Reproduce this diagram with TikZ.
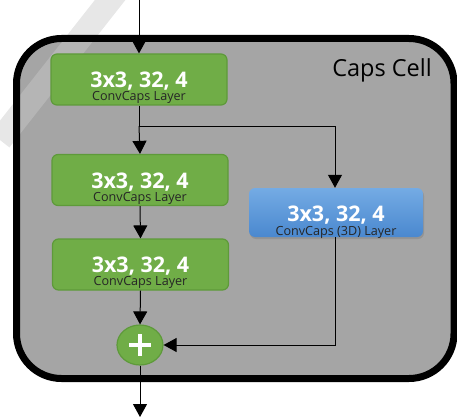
\documentclass[tikz,border=0pt]{standalone}
\usepackage{fontspec}
\setmainfont{Open Sans}
\usetikzlibrary{arrows.meta,shapes.geometric,shadows,calc}
\definecolor{cellgray}{HTML}{A5A5A5}
\definecolor{capsgreen}{HTML}{70AD47}
\definecolor{capsgreenline}{HTML}{5E9A3A}
\definecolor{bluetop}{HTML}{74ABE4}
\definecolor{bluebot}{HTML}{4A88CF}
\definecolor{wmark}{HTML}{C9C9C9}
\tikzset{
  greenbox/.style={draw=capsgreenline, line width=1.2pt, fill=capsgreen, rounded corners=6pt, minimum width=176pt, minimum height=51pt, inner sep=0pt},
  bluebox/.style={rounded corners=6pt, top color=bluetop, bottom color=bluebot, draw=none, minimum width=174pt, minimum height=49pt, inner sep=0pt, drop shadow={shadow xshift=1pt, shadow yshift=-2pt, opacity=0.45}},
  maintxt/.style={anchor=base, text=white, font=\bfseries\fontsize{21.5}{24}\selectfont, inner sep=0pt},
  subtxt/.style={anchor=base, text=black!85, font=\fontsize{12.6}{14}\selectfont, inner sep=0pt},
  flow/.style={draw=black, line width=1pt, -{Triangle[length=13pt,width=14pt]}},
  plain/.style={draw=black, line width=1pt}
}
\begin{document}
\begin{tikzpicture}[x=1pt,y=-1pt]
\useasboundingbox (0,0) rectangle (457,417);
% cell background
\fill[cellgray, rounded corners=45pt] (16.5,38.5) rectangle (454,378.5);
% faint watermark band
\draw[wmark, opacity=0.45, line width=24pt] (118,-10) -- (0,140);
\draw[black, line width=7pt, rounded corners=45pt] (16.5,38.5) rectangle (454,378.5);
\node[anchor=base, font=\fontsize{23.5}{26}\selectfont, inner sep=0pt] (title) at (382,77) {Caps Cell};
% layers
\node[greenbox] (b1) at (139,79.5) {};
\node[greenbox] (b2) at (140,180) {};
\node[greenbox] (b3) at (140.5,264.5) {};
\node[bluebox] (b4) at (336,212.5) {};
\node[maintxt] (t1) at (139,87.5) {3x3, 32, 4};
\node[subtxt] (s1) at (139,101) {ConvCaps Layer};
\node[maintxt] (t2) at (140,188) {3x3, 32, 4};
\node[subtxt] (s2) at (140,201.5) {ConvCaps Layer};
\node[maintxt] (t3) at (140.5,272) {3x3, 32, 4};
\node[subtxt] (s3) at (140.5,285.5) {ConvCaps Layer};
\node[maintxt] (t4) at (336,221.5) {3x3, 32, 4};
\node[subtxt] (s4) at (336,235) {ConvCaps (3D) Layer};
% sum node
\node[ellipse, draw=capsgreenline, line width=1.2pt, fill=capsgreen, minimum width=46pt, minimum height=40pt, inner sep=0pt] (sum) at (140,345) {};
\fill[white] ($(sum.center)+(-11,-2.3)$) rectangle ($(sum.center)+(11,2.3)$);
\fill[white] ($(sum.center)+(-2.3,-11)$) rectangle ($(sum.center)+(2.3,11)$);
% connectors
\coordinate (in) at (139,0);
\coordinate (split) at (139,126);
\coordinate (turn) at (335,126);
\coordinate (corner) at (335,345);
\coordinate (out) at (140,417);
\draw[flow] (in) -- (b1.north);
\draw[plain] (b1.south) -- (split);
\draw[flow] (split) -- (b2.north);
\draw[flow] (split) -- (turn) -- (b4.north -| turn);
\draw[flow] (b2.south) -- (b3.north);
\draw[flow] (b3.south) -- (sum.north);
\draw[flow] (b4.south -| corner) -- (corner) -- (sum.east);
\draw[flow] (sum.south) -- (out);
\end{tikzpicture}
\end{document}
